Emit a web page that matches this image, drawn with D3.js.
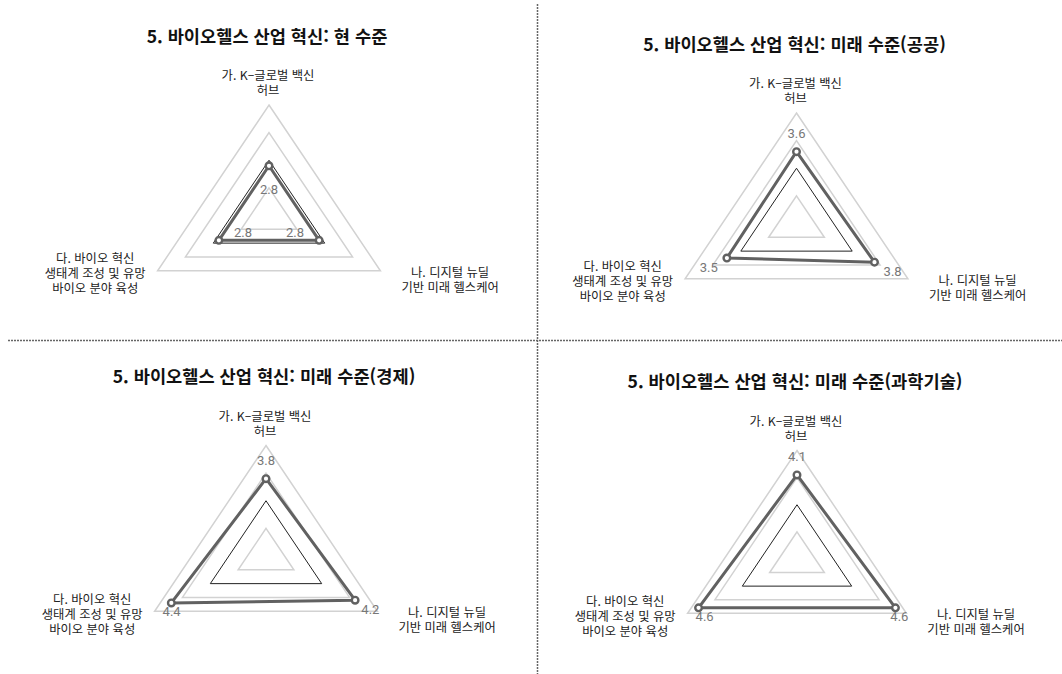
<!DOCTYPE html>
<html lang="ko">
<head>
<meta charset="utf-8">
<script src="https://cdn.jsdelivr.net/npm/d3@7"></script>
<style>
  html, body { margin: 0; padding: 0; background: #fff; }
  svg { display: block; font-family: "Noto Sans CJK KR", "Noto Sans", sans-serif; }
</style>
</head>
<body>
<svg id="chart" width="1062" height="674"></svg>
<script>
// Survey axes (three innovation tasks), one radar per scenario
const axisLabels = [
  ["가. K–글로벌 백신", "허브"],
  ["나. 디지털 뉴딜", "기반 미래 헬스케어"],
  ["다. 바이오 혁신", "생태계 조성 및 유망", "바이오 분야 육성"]
];
const panelTitles = [
  "5. 바이오헬스 산업 혁신: 현 수준",
  "5. 바이오헬스 산업 혁신: 미래 수준(공공)",
  "5. 바이오헬스 산업 혁신: 미래 수준(경제)",
  "5. 바이오헬스 산업 혁신: 미래 수준(과학기술)"
];
const currentLevel   = [2.8, 2.8, 2.8];
const futurePublic   = [3.6, 3.8, 3.5];
const futureEconomy  = [3.8, 4.2, 4.4];
const futureScience  = [4.1, 4.6, 4.6];
const panelValues = [currentLevel, futurePublic, futureEconomy, futureScience];

const scaleDomain = [1, 5];
const gridTicks = [2, 3, 4, 5];
const referenceLevel = 3;

// Panel placement (centre, radius, value-label offset)
const layout = [
  { cx: 269, cy: 215.5, R: 110.5, labelOffset: -24 },
  { cx: 796.5, cy: 223.5, R: 110.5, labelOffset: 18 },
  { cx: 266, cy: 556, R: 110.5, labelOffset: 18 },
  { cx: 797, cy: 559, R: 108.5, labelOffset: 18 }
];
const xStretch = 1.164;

const svg = d3.select("#chart");

// Quadrant dividers
svg.append("line")
  .attr("x1", 537.5).attr("x2", 537.5).attr("y1", 4).attr("y2", 674)
  .attr("stroke", "#666").attr("stroke-width", 1.5).attr("stroke-dasharray", "2,1");
svg.append("line")
  .attr("x1", 8).attr("x2", 1062).attr("y1", 340.5).attr("y2", 340.5)
  .attr("stroke", "#666").attr("stroke-width", 1.5).attr("stroke-dasharray", "2,1");

const angleOf = i => i * 2 * Math.PI / axisLabels.length;
const closedLine = d3.line().curve(d3.curveLinearClosed);

panelValues.forEach((values, p) => {
  const L = layout[p];
  const r = d3.scaleLinear().domain(scaleDomain).range([0, L.R]);
  const pt = (i, rad) => [
    L.cx + rad * Math.sin(angleOf(i)) * xStretch,
    L.cy - rad * Math.cos(angleOf(i))
  ];
  const g = svg.append("g");

  // Title
  g.append("text")
    .attr("x", L.cx - 2).attr("y", L.cy - L.R - 70)
    .attr("text-anchor", "middle").attr("dominant-baseline", "central")
    .attr("font-size", 17.6).attr("font-weight", 700).attr("fill", "#111")
    .text(panelTitles[p]);

  // Grid triangles
  gridTicks.forEach(t => {
    g.append("path")
      .attr("d", closedLine(axisLabels.map((_, i) => pt(i, r(t)))))
      .attr("fill", "none")
      .attr("stroke", t === referenceLevel ? "#222" : "#d2d2d2")
      .attr("stroke-width", t === referenceLevel ? 1 : 1.5);
  });

  // Data polygon
  const pts = values.map((v, i) => pt(i, r(v)));
  g.append("path")
    .attr("d", closedLine(pts))
    .attr("fill", "none").attr("stroke", "#616161")
    .attr("stroke-width", 3).attr("stroke-linejoin", "round");
  g.selectAll("circle.pt").data(pts).enter().append("circle")
    .attr("cx", d => d[0]).attr("cy", d => d[1]).attr("r", 3.3)
    .attr("fill", "#fff").attr("stroke", "#616161").attr("stroke-width", 2.4);

  // Value labels
  const outer = axisLabels.map((_, i) => pt(i, L.R));
  values.forEach((v, i) => {
    let [x, y] = pt(i, r(v) + L.labelOffset);
    if (L.labelOffset > 0) {
      x = Math.max(outer[2][0] + 17, Math.min(outer[1][0] - 7, x));
    } else if (i > 0) {
      y += 4;
    }
    g.append("text")
      .attr("x", x).attr("y", y)
      .attr("text-anchor", "middle").attr("dominant-baseline", "central")
      .attr("font-family", "Roboto, 'Liberation Sans', sans-serif")
      .attr("font-size", 13).attr("fill", "#777")
      .text(v.toFixed(1));
  });

  // Axis (category) labels
  const lineH = 15;
  axisLabels.forEach((lines, i) => {
    const [ox, oy] = outer[i];
    const t = g.append("text")
      .attr("font-size", 12.3).attr("fill", "#222").attr("text-anchor", "middle");
    let firstY, cx;
    if (i === 0) {
      firstY = oy - 15 - (lines.length - 1) * lineH;
      cx = ox - 1;
    } else if (i === 1) {
      firstY = oy + 1;
      cx = ox + 21;
    } else {
      firstY = oy - 12.5;
      cx = ox - 12;
    }
    lines.forEach((s, k) => {
      t.append("tspan").attr("x", cx).attr("y", firstY + k * lineH)
        .attr("dominant-baseline", "central").text(s);
    });
    // align block edge to the corner side
    const w = t.node().getBBox().width;
    const shift = i === 1 ? w / 2 : (i === 2 ? -w / 2 : 0);
    t.selectAll("tspan").attr("x", cx + shift);
  });
});
</script>
</body>
</html>
